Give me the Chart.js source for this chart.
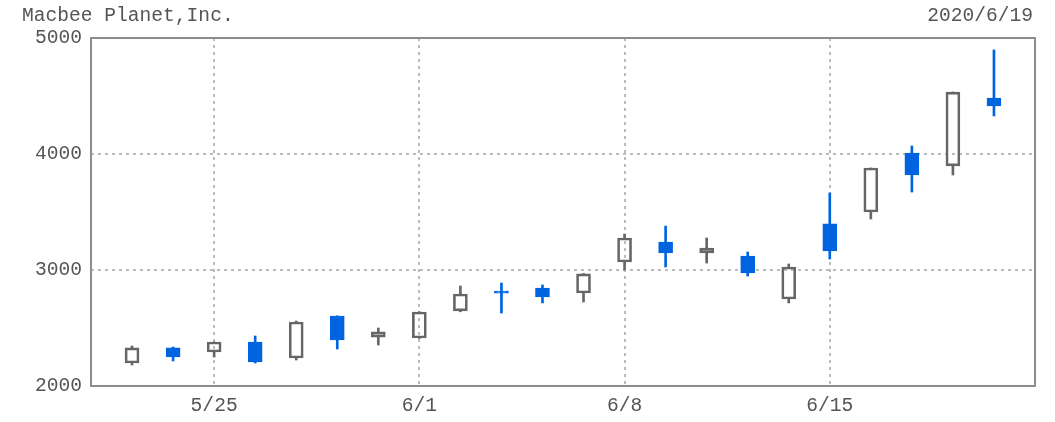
<!DOCTYPE html>
<html>
<head>
<meta charset="utf-8">
<script src="https://cdn.jsdelivr.net/npm/chart.js@4/dist/chart.umd.min.js"></script>
<style>
  body { margin: 0; background: #fff; }
  #wrap { position: relative; width: 1055px; height: 422px; }
  .lbl { position: absolute; font-family: "Liberation Mono", monospace; font-size: 19.6px; color: #555; line-height: 20px; }
  #name { left: 22px; top: 6px; }
  #date { right: 22px; top: 6px; }
</style>
</head>
<body>
<div id="wrap">
  <canvas id="chart" width="1055" height="422"></canvas>
  <div class="lbl" id="name">Macbee Planet,Inc.</div>
  <div class="lbl" id="date">2020/6/19</div>
</div>
<script>
'use strict';

// daily prices, weekdays only
var dates = ['5/21', '5/22', '5/25', '5/26', '5/27', '5/28', '5/29', '6/1', '6/2', '6/3', '6/4',
  '6/5', '6/8', '6/9', '6/10', '6/11', '6/12', '6/15', '6/16', '6/17', '6/18', '6/19'];
var opens = [2198, 2328, 2293, 2379, 2241, 2603, 2422, 2414, 2647, 2802, 2845,
  2802, 3069, 3241, 3147, 3121, 2750, 3397, 3500, 4008, 3897, 4483];
var highs = [2345, 2336, 2380, 2431, 2560, 2605, 2500, 2640, 2862, 2888, 2871,
  2970, 3310, 3379, 3276, 3155, 3052, 3664, 3880, 4069, 4535, 4897];
var lows = [2181, 2216, 2250, 2198, 2224, 2319, 2353, 2410, 2640, 2629, 2716,
  2724, 3000, 3026, 3060, 2948, 2716, 3095, 3440, 3672, 3819, 4328];
var closes = [2328, 2250, 2379, 2207, 2552, 2397, 2466, 2638, 2793, 2800, 2767,
  2966, 3276, 3147, 3190, 2974, 3026, 3164, 3879, 3819, 4534, 4414];
var xTickLabels = ['5/25', '6/1', '6/8', '6/15'];
var yTicks = [2000, 3000, 4000, 5000];

var upColor = '#666666';
var downColor = '#0064e0';

var bodies = [];
var upperWicks = [];
var lowerWicks = [];
var bodyFill = [];
var lineColor = [];
for (var i = 0; i < dates.length; i++) {
  var bodyTop = Math.max(opens[i], closes[i]);
  var bodyBot = Math.min(opens[i], closes[i]);
  var down = closes[i] < opens[i];
  bodies.push({x: i, y: [opens[i], closes[i]]});
  upperWicks.push({x: i, y: highs[i] > bodyTop ? [bodyTop, highs[i]] : null});
  lowerWicks.push({x: i, y: lows[i] < bodyBot ? [lows[i], bodyBot] : null});
  bodyFill.push(down ? downColor : 'rgba(0,0,0,0)');
  lineColor.push(down ? downColor : upColor);
}

var frame = {
  id: 'frame',
  afterDraw: function(chart) {
    var a = chart.chartArea;
    var ctx = chart.ctx;
    ctx.save();
    ctx.strokeStyle = '#8c8c8c';
    ctx.lineWidth = 2;
    ctx.strokeRect(a.left, a.top, a.right - a.left, a.bottom - a.top);
    ctx.restore();
  }
};

new Chart(document.getElementById('chart'), {
  type: 'bar',
  data: {
    datasets: [
      {
        data: bodies,
        backgroundColor: bodyFill,
        borderColor: lineColor,
        borderWidth: 2,
        borderSkipped: false,
        barThickness: 14,
        minBarLength: 2
      },
      {
        data: upperWicks,
        backgroundColor: lineColor,
        borderWidth: 0,
        barThickness: 2
      },
      {
        data: lowerWicks,
        backgroundColor: lineColor,
        borderWidth: 0,
        barThickness: 2
      }
    ]
  },
  plugins: [frame],
  options: {
    responsive: false,
    animation: false,
    devicePixelRatio: 1,
    layout: {padding: {top: 38, right: 20, left: 0, bottom: 0}},
    plugins: {legend: {display: false}, tooltip: {enabled: false}},
    datasets: {bar: {grouped: false}},
    scales: {
      x: {
        type: 'linear',
        offset: false,
        min: -1,
        max: dates.length,
        afterBuildTicks: function(axis) {
          axis.ticks = xTickLabels.map(function(d) { return {value: dates.indexOf(d)}; });
        },
        afterFit: function(axis) { axis.height = 36; },
        grid: {offset: false, color: '#bcbcbc', lineWidth: 2, drawTicks: false},
        border: {display: false, dash: [3, 4]},
        ticks: {
          padding: 8,
          color: '#555',
          font: {family: 'Liberation Mono', size: 19.6},
          maxRotation: 0,
          autoSkip: false,
          callback: function(v) { return dates[v]; }
        }
      },
      y: {
        min: 2000,
        max: 5000,
        afterBuildTicks: function(axis) {
          axis.ticks = yTicks.map(function(v) { return {value: v}; });
        },
        afterFit: function(axis) { axis.width = 91; },
        grid: {color: '#bcbcbc', lineWidth: 2, drawTicks: false},
        border: {display: false, dash: [3, 4]},
        ticks: {
          padding: 9,
          color: '#555',
          font: {family: 'Liberation Mono', size: 19.6},
          callback: function(v) { return String(v); }
        }
      }
    }
  }
});
</script>
</body>
</html>
